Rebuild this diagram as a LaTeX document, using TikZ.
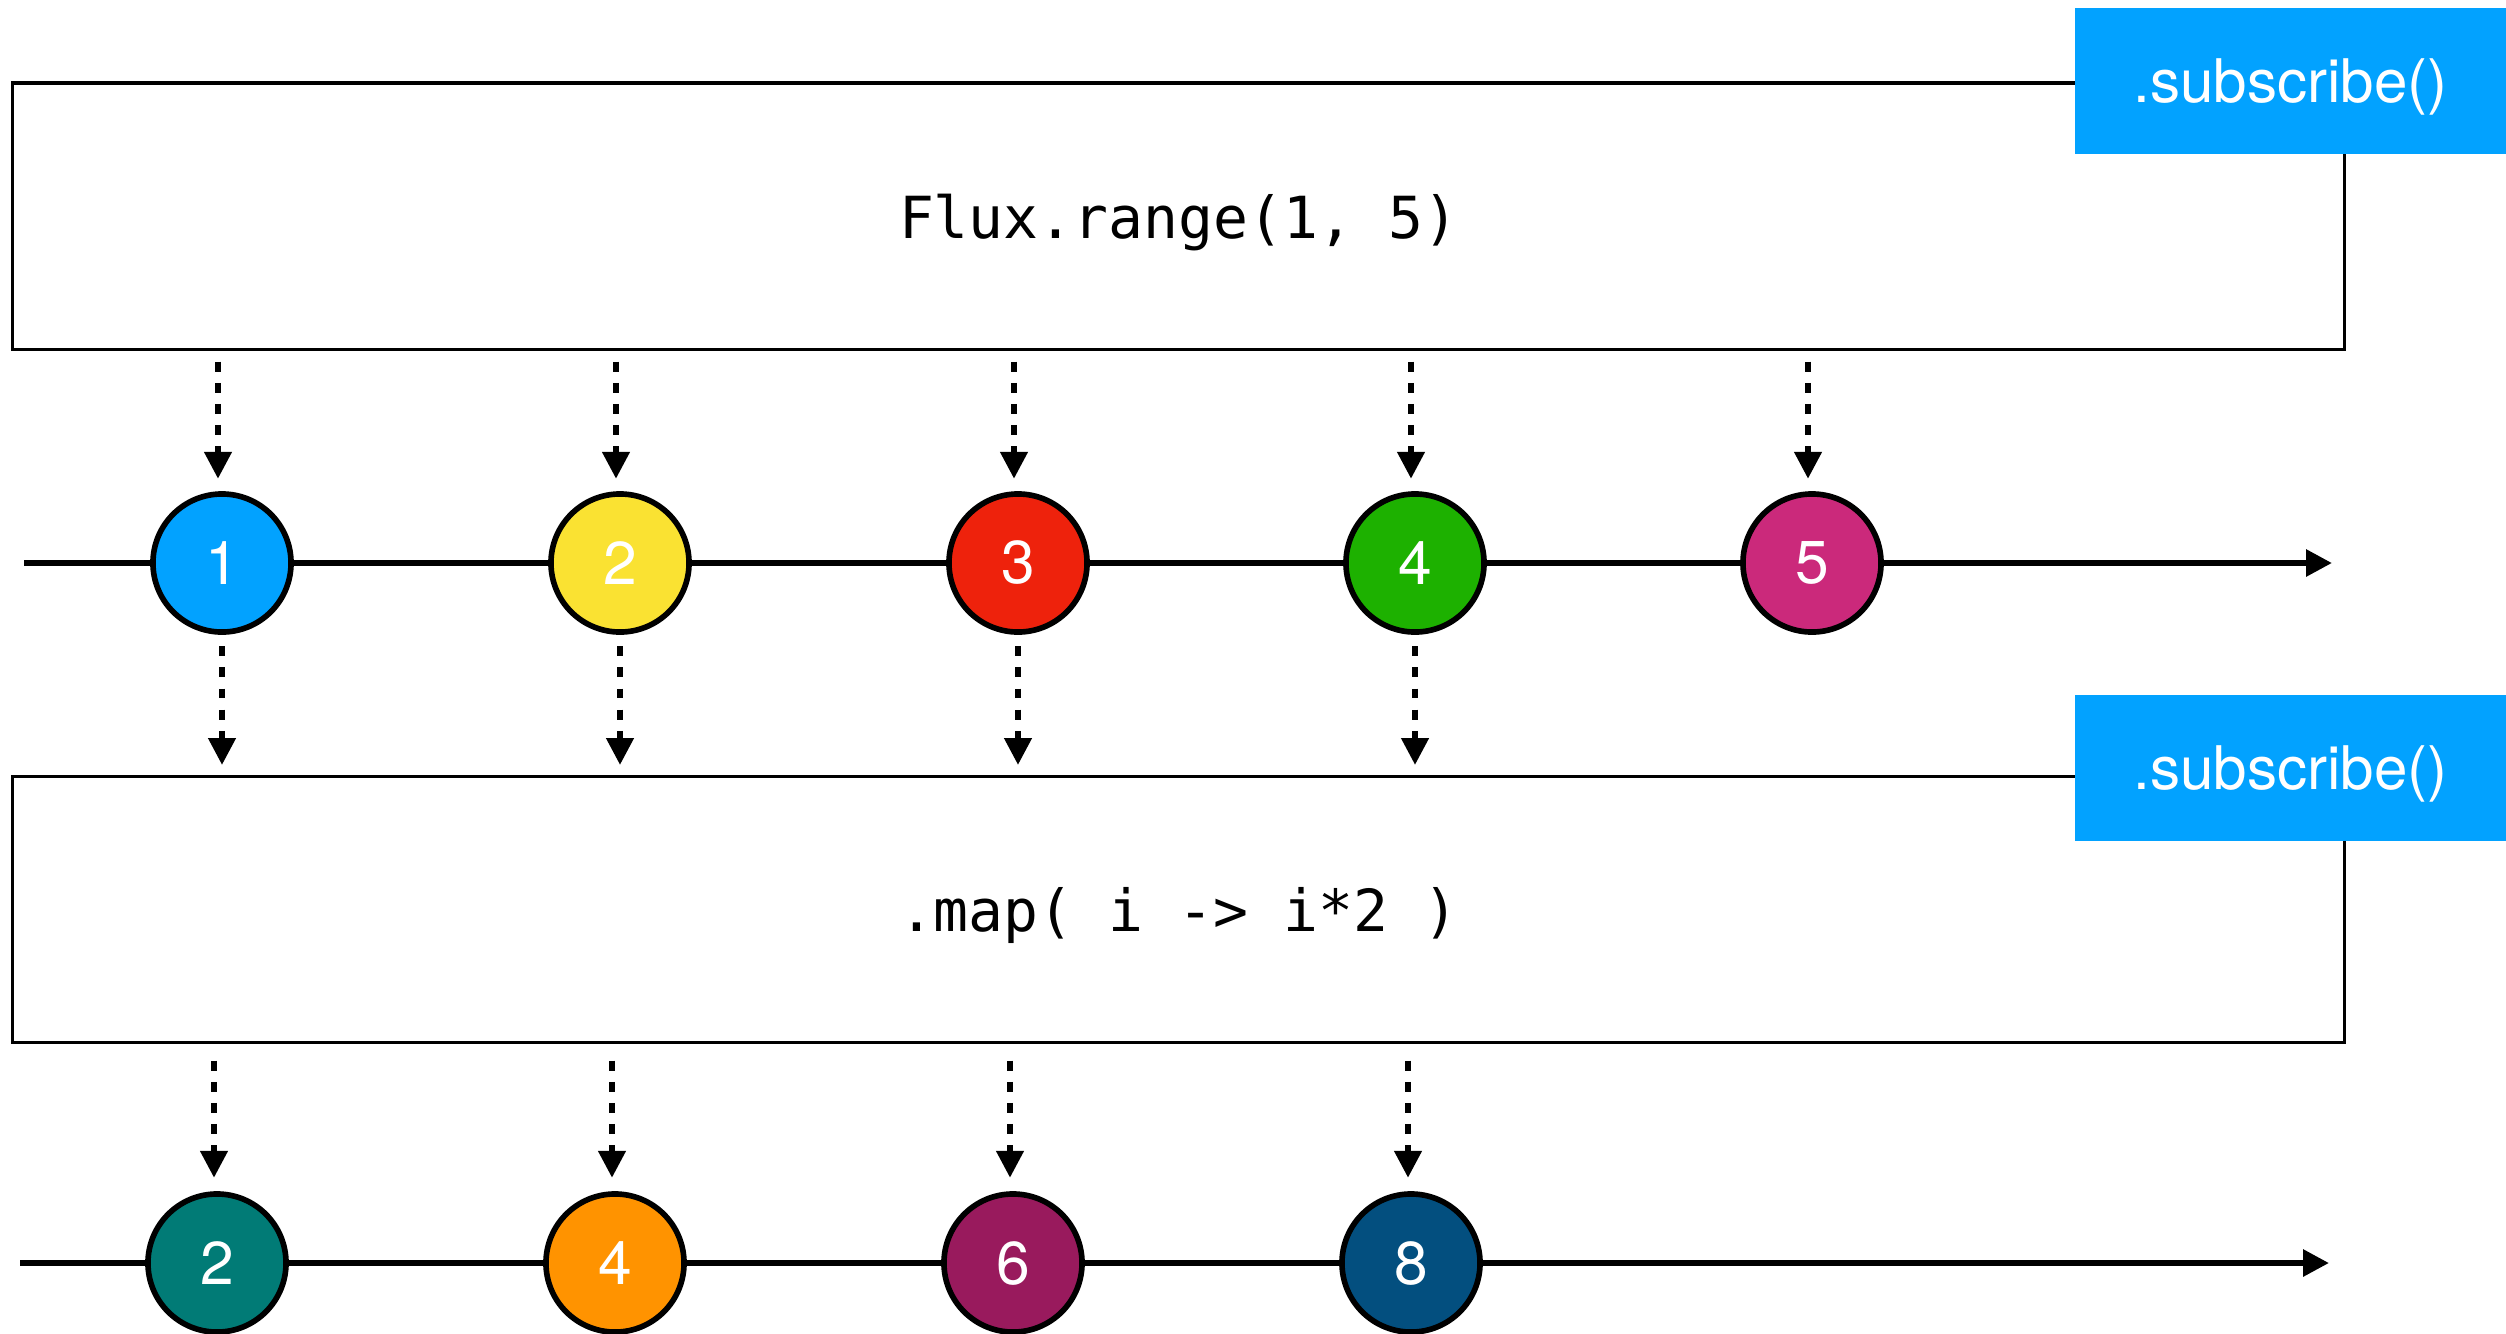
\documentclass[tikz,border=0pt]{standalone}
\usepackage{fontspec}
\usetikzlibrary{arrows.meta}
\newfontfamily\hvfont{TeX Gyre Heros}
\newfontfamily\monofont{DejaVu Sans Mono}
\definecolor{kblue}{HTML}{02A2FF}
\definecolor{kyellow}{HTML}{FAE232}
\definecolor{kred}{HTML}{EE220C}
\definecolor{kgreen}{HTML}{1DB100}
\definecolor{kmag}{HTML}{CB297B}
\definecolor{kteal}{HTML}{017B76}
\definecolor{korange}{HTML}{FF9300}
\definecolor{kplum}{HTML}{991A5D}
\definecolor{knavy}{HTML}{034F7F}
\begin{document}
\begin{tikzpicture}[x=0.01cm,y=-0.01cm,
  opbox/.style={draw, line width=0.9pt, minimum width=23.31cm, minimum height=2.66cm, inner sep=0pt,
    text height=0.5cm, text depth=0.06cm,
    font=\monofont\fontsize{16.5pt}{20pt}\selectfont},
  badge/.style={fill=kblue, text=white, minimum width=4.31cm, minimum height=1.46cm, inner sep=0pt,
    text height=0.5cm, text depth=0.08cm, font=\hvfont\fontsize{17.1pt}{20pt}\selectfont},
  marble/.style={circle, draw, line width=1.6pt, minimum size=1.38cm, inner sep=0pt, text=white,
    font=\hvfont\fontsize{17.2pt}{20pt}\selectfont},
  timeline/.style={line width=1.7pt, -{Triangle[length=7.4pt,width=7.4pt]}},
  flow/.style={line width=1.45pt, dash pattern=on 2.8pt off 3.2pt, -{Triangle[length=7.6pt,width=7.6pt]}}
]
\useasboundingbox (0,0) rectangle (2506,1333);
% timelines
\coordinate (t1s) at (24,563);
\coordinate (t1e) at (2332,563);
\coordinate (t2s) at (20,1263);
\coordinate (t2e) at (2329,1263);
\draw[timeline] (t1s) -- (t1e);
\draw[timeline] (t2s) -- (t2e);
% operator boxes
\node[opbox] (op1) at (1178.5,216) {Flux.range(1, 5)};
\node[opbox] (op2) at (1178.5,909.5) {.map( i -> i*2 )};
% subscribe badges
\node[badge] (s1) at (2290.5,81) {.subscribe()};
\node[badge] (s2) at (2290.5,768) {.subscribe()};
% marbles row 1
\node[marble, fill=kblue]   (a1) at (222,563)  {1};
\node[marble, fill=kyellow] (a2) at (620,563)  {2};
\node[marble, fill=kred]    (a3) at (1018,563) {3};
\node[marble, fill=kgreen]  (a4) at (1415,563) {4};
\node[marble, fill=kmag]    (a5) at (1812,563) {5};
% marbles row 2
\node[marble, fill=kteal]   (b1) at (217,1263)  {2};
\node[marble, fill=korange] (b2) at (615,1263)  {4};
\node[marble, fill=kplum]   (b3) at (1013,1263) {6};
\node[marble, fill=knavy]   (b4) at (1411,1263) {8};
% emissions from Flux.range
\foreach \n in {1,...,5}
  \draw[flow, shorten <=0.11cm, shorten >=0.125cm]
    ([xshift=-0.04cm]a\n.north |- op1.south) -- ([xshift=-0.04cm]a\n.north);
% into map
\foreach \n in {1,...,4}
  \draw[flow, shorten <=0.115cm, shorten >=0.1cm]
    (a\n.south) -- (a\n.south |- op2.north);
% out of map
\foreach \n in {1,...,4}
  \draw[flow, shorten <=0.165cm, shorten >=0.135cm]
    ([xshift=-0.03cm]b\n.north |- op2.south) -- ([xshift=-0.03cm]b\n.north);
\end{tikzpicture}
\end{document}
